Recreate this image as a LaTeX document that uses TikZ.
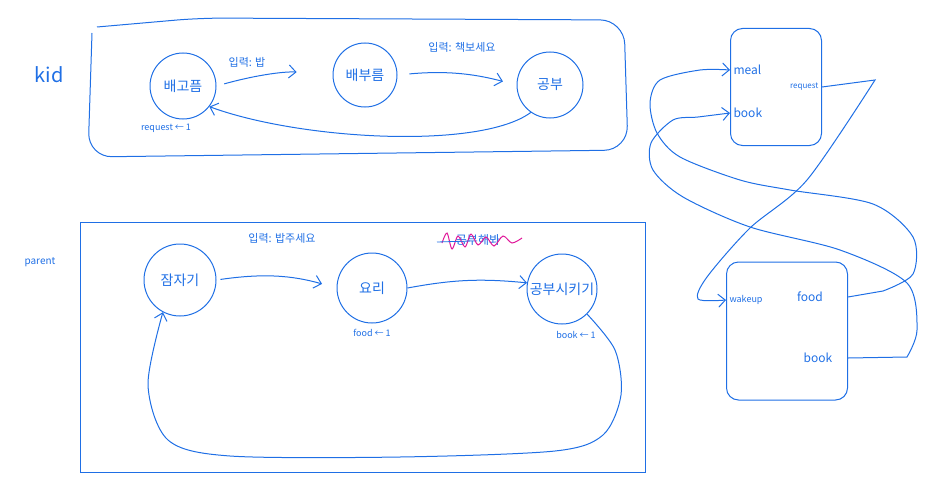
\documentclass[tikz,border=0pt]{standalone}
\usepackage{fontspec}
\setmainfont{Noto Sans CJK KR}
\usetikzlibrary{arrows.meta,positioning,calc}
\definecolor{pen}{HTML}{1F6FE5}
\definecolor{marker}{HTML}{E0189A}

\begin{document}
\begin{tikzpicture}[x=1pt, y=-1pt, >={Straight Barb[length=7pt,width=13pt]},
  every node/.style={text=pen},
  line/.style={draw=pen, line width=1pt},
  state/.style={circle, line, minimum size=66pt, inner sep=0pt, font=\fontsize{14}{14}\selectfont},
  module/.style={line, rounded corners=12pt},
  edgelab/.style={font=\fontsize{11}{11}\selectfont},
  varlab/.style={font=\fontsize{9}{9}\selectfont},
  portlab/.style={font=\fontsize{12}{12}\selectfont}]
  \useasboundingbox (0,0) rectangle (931,487);

  \node[font=\fontsize{20}{20}\selectfont] (kid) at (49,75) {kid};
  \draw[line, rounded corners=24pt] (97,27) -- (200,18) -- (624,20) -- (628,150) -- (88,157) -- (92,33);

  \node[state] (Khungry) at (183,86) {배고픔};
  \node[state, minimum size=64pt] (Kfull) at (365,75) {배부름};
  \node[state] (Kstudy) at (550,85) {공부};
  \node[edgelab] (Leat) at (247,62) {입력: 밥};
  \node[edgelab] (Lread) at (462,47) {입력: 책보세요};
  \node[varlab] (Vrequest) at (166,128) {request ← 1};

  \node[font=\fontsize{10}{10}\selectfont] (parent) at (40,262) {parent};
  \draw[line] (80,222) rectangle (645,472);

  \node[state, minimum size=72pt] (Psleep) at (180,280) {잠자기};
  \node[state, minimum size=70pt] (Pcook) at (372,288) {요리};
  \node[state, minimum size=70pt] (Pteach) at (562,289) {공부시키기};
  \node[edgelab] (Lfeed) at (282,238) {입력: 밥주세요};
  \node[font=\fontsize{12}{12}\selectfont] (Lcross) at (478,240) {공부해봐};
  \draw[marker, line width=1pt] plot[smooth] coordinates {(442,243) (447,233) (452,249) (458,236) (465,247) (471,234) (478,245) (486,237) (494,246) (503,236) (512,243) (522,238)};
  \draw[pen, line width=0.8pt] (437,242) -- (470,241);
  \node[varlab] (Vfood) at (372,333) {food ← 1};
  \node[varlab] (Vbook) at (576,335) {book ← 1};

  \node[module, minimum width=91pt, minimum height=117pt] (Mkid) at (776,87) {};
  \node[portlab, anchor=west] (Rmeal) at (Mkid.west |- 0,70) {meal};
  \node[portlab, anchor=west] (Rbookin) at (Mkid.west |- 0,113) {book};
  \node[font=\fontsize{8}{8}\selectfont, anchor=east] (Rrequest) at (Mkid.east |- 0,87) {request};

  \node[module, minimum width=121pt, minimum height=138pt] (Mparent) at (787,331) {};
  \node[font=\fontsize{9}{9}\selectfont, anchor=west] (Rwakeup) at (Mparent.west |- 0,300) {wakeup};
  \node[portlab] (Rfood) at (810,297) {food};
  \node[portlab] (Rbookout) at (818,358) {book};

  \begin{scope}[->, line]
    \draw[shorten <=8pt, shorten >=36pt] (Khungry.east) to[bend left=10] (Kfull.west);
    \draw[shorten <=12pt, shorten >=14pt] (Kfull.east) to[bend left=10] (Kstudy.west);
    \draw (Kstudy.-125) .. controls (480,150) and (300,140) .. (Khungry.-38);
    \draw[shorten <=4pt, shorten >=15pt] (Psleep.east) to[bend left=12] (Pcook.west);
    \draw (Pcook.east) to[bend left=8] (Pteach.170);
    \draw plot[smooth] coordinates {(Pteach.-45) (615,350) (621,395) (603,435) (555,451) (400,457) (230,456) (168,440) (148,385) (Psleep.-118)};
    \draw (Mkid.east |- Rrequest) -- plot[smooth] coordinates {(875,80) (807,180) (750,228) (707,277) (698,299) (Mparent.west |- Rwakeup)};
    \draw (Mparent.east |- Rfood) -- plot[smooth] coordinates {(883,291) (913,274) (913,237) (873,204) (790,190) (740,180) (680,157) (657,133) (650,103) (660,80) (700,70) (Mkid.west |- Rmeal)};
    \draw (Mparent.east |- Rbookout) -- plot[smooth] coordinates {(907,357) (917,330) (907,283) (840,250) (750,227) (683,197) (653,170) (651,143) (673,120) (698,117) (Mkid.west |- Rbookin)};
  \end{scope}
\end{tikzpicture}
\end{document}
